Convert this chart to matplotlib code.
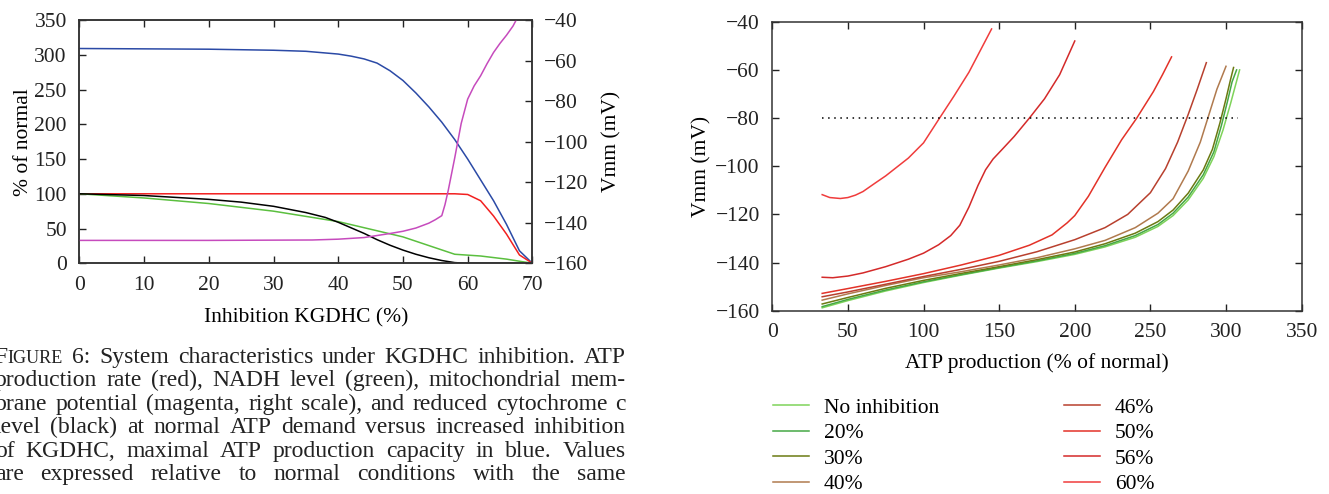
import matplotlib

matplotlib.use("Agg")
import matplotlib.pyplot as plt

plt.rcParams["font.family"] = ["Liberation Serif", "DejaVu Serif"]
plt.rcParams["font.size"] = 15.5
plt.rcParams["axes.linewidth"] = 1.1
plt.rcParams["axes.edgecolor"] = "#333333"

# ---- left panel: system characteristics vs KGDHC inhibition (%)
capacity_x = [0, 10, 20, 30, 35, 40, 42, 44, 46, 48, 50, 52, 54, 56, 58, 60, 62, 64, 66, 68, 70]
capacity_y = [309, 308.5, 308, 306.5, 305, 301, 298, 294, 288, 277, 263, 245, 225, 203, 178, 150, 120, 90, 56, 18, 0]

atp_x = [0, 58, 60, 62, 64, 66, 68, 70]
atp_y = [100, 100, 99, 90, 68, 42, 12, 0]

nadh_x = [0, 10, 20, 30, 40, 50, 58, 62, 66, 70]
nadh_y = [100, 94, 86, 75, 60, 38, 13, 10.5, 6, 0]

cytc_x = [0, 10, 20, 25, 30, 35, 38, 40, 42, 44, 46, 48, 50, 52, 54, 56, 58, 60, 70]
cytc_y = [100, 97.5, 92, 88, 82, 73, 66, 59, 51, 43, 34, 26, 19, 13, 8, 4, 1, 0, 0]

vmm_x = [0, 20, 36, 40, 44, 46, 48, 50, 52, 54, 55, 56, 56.5, 57, 58, 59, 60, 61, 62, 63, 64, 65, 66, 67, 68]
vmm_y = [-148.7, -148.7, -148.5, -148.1, -147.3, -146.3, -145.3, -144.2, -142.6, -140.2, -138.5, -136.5,
         -131, -124, -108, -91, -79, -72.5, -67.5, -61.5, -56, -51.5, -47.5, -43, -37]

# ---- right panel: Vmm vs ATP production, one curve per inhibition level
labels = ["No inhibition", "20%", "30%", "40%", "46%", "50%", "56%", "60%"]
colors = ["#7fd35a", "#45a845", "#6b7a12", "#b07a4e", "#b8402e", "#e33228", "#d42a2a", "#f03c3c"]

curve_x = [
    [33, 50, 75, 100, 125, 150, 175, 200, 220, 240, 255, 265, 275, 285, 292, 298, 303, 306, 309],
    [33, 50, 75, 100, 125, 150, 175, 200, 220, 240, 255, 265, 275, 285, 292, 297, 301, 304, 307],
    [33, 50, 75, 100, 125, 150, 175, 200, 220, 240, 255, 265, 275, 285, 291, 296, 300, 303, 305],
    [33, 50, 75, 100, 125, 150, 175, 200, 220, 240, 255, 265, 275, 283, 288, 294, 300],
    [33, 50, 75, 100, 125, 150, 175, 200, 220, 235, 250, 260, 268, 275, 281, 287],
    [33, 50, 75, 100, 125, 150, 170, 185, 195, 200, 209, 220, 231, 241, 252, 258, 264],
    [33, 40, 50, 60, 75, 90, 100, 110, 118, 124, 130, 136, 141, 146, 152, 160, 170, 180, 190, 200],
    [33, 38, 45, 50, 55, 60, 68, 75, 90, 100, 110, 120, 130, 140, 145],
]
curve_y = [
    [-158.8, -155.8, -151.8, -148.3, -145.2, -142.3, -139.6, -136.6, -133.5, -129.5, -125, -120.5, -114, -105,
     -96, -85, -74, -67, -60],
    [-158.3, -155.3, -151.4, -148.0, -145.0, -142.1, -139.3, -136.2, -133.0, -128.8, -124.2, -119.5, -112.8,
     -103.5, -94, -83, -73, -65, -60],
    [-157.2, -154.5, -150.7, -147.4, -144.5, -141.7, -138.8, -135.6, -132.2, -127.8, -123, -118.2, -111.2,
     -101.5, -93, -82, -72, -64, -59],
    [-155.6, -153, -149.5, -146.3, -143.8, -141, -138, -134.3, -130.8, -125.5, -119.5, -113.5, -102, -90,
     -80, -68, -58.5],
    [-154.2, -152.2, -149, -145.8, -142.8, -139.5, -135.5, -130.5, -125.5, -120, -111, -101, -90, -78.5,
     -68, -57],
    [-152.8, -150.8, -147.8, -144.6, -141, -137, -132.8, -128.5, -123.5, -120.5, -112.5, -100.5, -89, -80,
     -69, -62, -54.6],
    [-146.1, -146.3, -145.6, -144.3, -141.7, -138.6, -136.1, -132.6, -128.8, -124.5, -117, -108, -101.5, -97,
     -93, -87.6, -80, -72, -62, -48],
    [-111.8, -113, -113.4, -113, -112, -110.5, -107, -104, -96.6, -90.3, -80.6, -71, -61, -49, -43],
]

threshold_vmm = -80
threshold_span = (33, 308)

caption_lines = [
    "Figure 6: System characteristics under KGDHC inhibition. ATP",
    "production rate (red), NADH level (green), mitochondrial mem-",
    "brane potential (magenta, right scale), and reduced cytochrome c",
    "level (black) at normal ATP demand versus increased inhibition",
    "of KGDHC, maximal ATP production capacity in blue. Values",
    "are expressed relative to normal conditions with the same",
]


def style_ticks(axis, **kwargs):
    axis.tick_params(direction="in", length=5, width=1, colors="#222222", labelsize=15.5, **kwargs)


def draw_caption(fig, lines, left, right, top, step, size):
    renderer = fig.canvas.get_renderer()
    fig_width = fig.bbox.width
    for row, line in enumerate(lines):
        y = top - row * step
        placed = []
        total = 0.0
        for word in line.split(" "):
            parts = [("F", 1.0), ("IGURE", 0.77)] if word == "Figure" else [(word, 1.0)]
            pieces = []
            for text, factor in parts:
                item = fig.text(0, y, text, fontsize=size * factor, va="baseline", ha="left", color="#222222")
                width = item.get_window_extent(renderer).width / fig_width
                pieces.append((item, width))
                total += width
            placed.append(pieces)
        gap = (right - left - total) / (len(placed) - 1)
        x = left
        for pieces in placed:
            for item, width in pieces:
                item.set_x(x)
                x += width
            x += gap


fig = plt.figure(figsize=(13.29, 4.94), dpi=100)

# left panel
ax = fig.add_axes([0.0597, 0.4670, 0.3409, 0.4925])
ax.plot(capacity_x, capacity_y, color="#2b4aa6", lw=1.1)
ax.plot(atp_x, atp_y, color="#f22020", lw=1.1)
ax.plot(nadh_x, nadh_y, color="#5bbf3f", lw=1.1)
ax.plot(cytc_x, cytc_y, color="black", lw=1.1)
ax.set_xlim(0, 70)
ax.set_ylim(0, 350)
ax.set_xticks(range(0, 71, 10))
ax.set_yticks(range(0, 351, 50))
ax.set_xlabel("Inhibition KGDHC (%)", labelpad=10)
ax.set_ylabel("% of normal", labelpad=1)
style_ticks(ax, top=True, right=False, pad=9)

ax_v = ax.twinx()
ax_v.plot(vmm_x, vmm_y, color="#c64bbd", lw=1.1)
ax_v.set_ylim(-160, -40)
ax_v.set_yticks(range(-160, -39, 20))
ax_v.set_ylabel("Vmm (mV)", labelpad=10)
style_ticks(ax_v, pad=8)

# right panel
bx = fig.add_axes([0.5811, 0.3710, 0.3983, 0.5850])
for xs, ys, label, color in zip(curve_x, curve_y, labels, colors):
    bx.plot(xs, ys, color=color, lw=1.1, label=label)
bx.hlines(threshold_vmm, *threshold_span, colors="black", linestyles=(0, (1, 3)), lw=1.1)
bx.set_xlim(0, 350)
bx.set_ylim(-160, -40)
bx.set_xticks(range(0, 351, 50))
bx.set_yticks(range(-160, -39, 20))
bx.set_xlabel("ATP production (% of normal)", labelpad=8)
bx.set_ylabel("Vmm (mV)", labelpad=3)
style_ticks(bx, top=True, right=True, pad=9)

fig.legend(
    loc="upper left",
    bbox_to_anchor=(0.582, 0.195),
    ncol=2,
    frameon=False,
    fontsize=15.5,
    handlelength=1.65,
    handletextpad=0.7,
    columnspacing=5.8,
    labelspacing=0.25,
    borderpad=0,
    borderaxespad=0,
)

draw_caption(fig, caption_lines, -0.004, 0.471, 1 - 363 / 494, 23.4 / 494, 17)

fig.savefig("out.png", dpi=100)
